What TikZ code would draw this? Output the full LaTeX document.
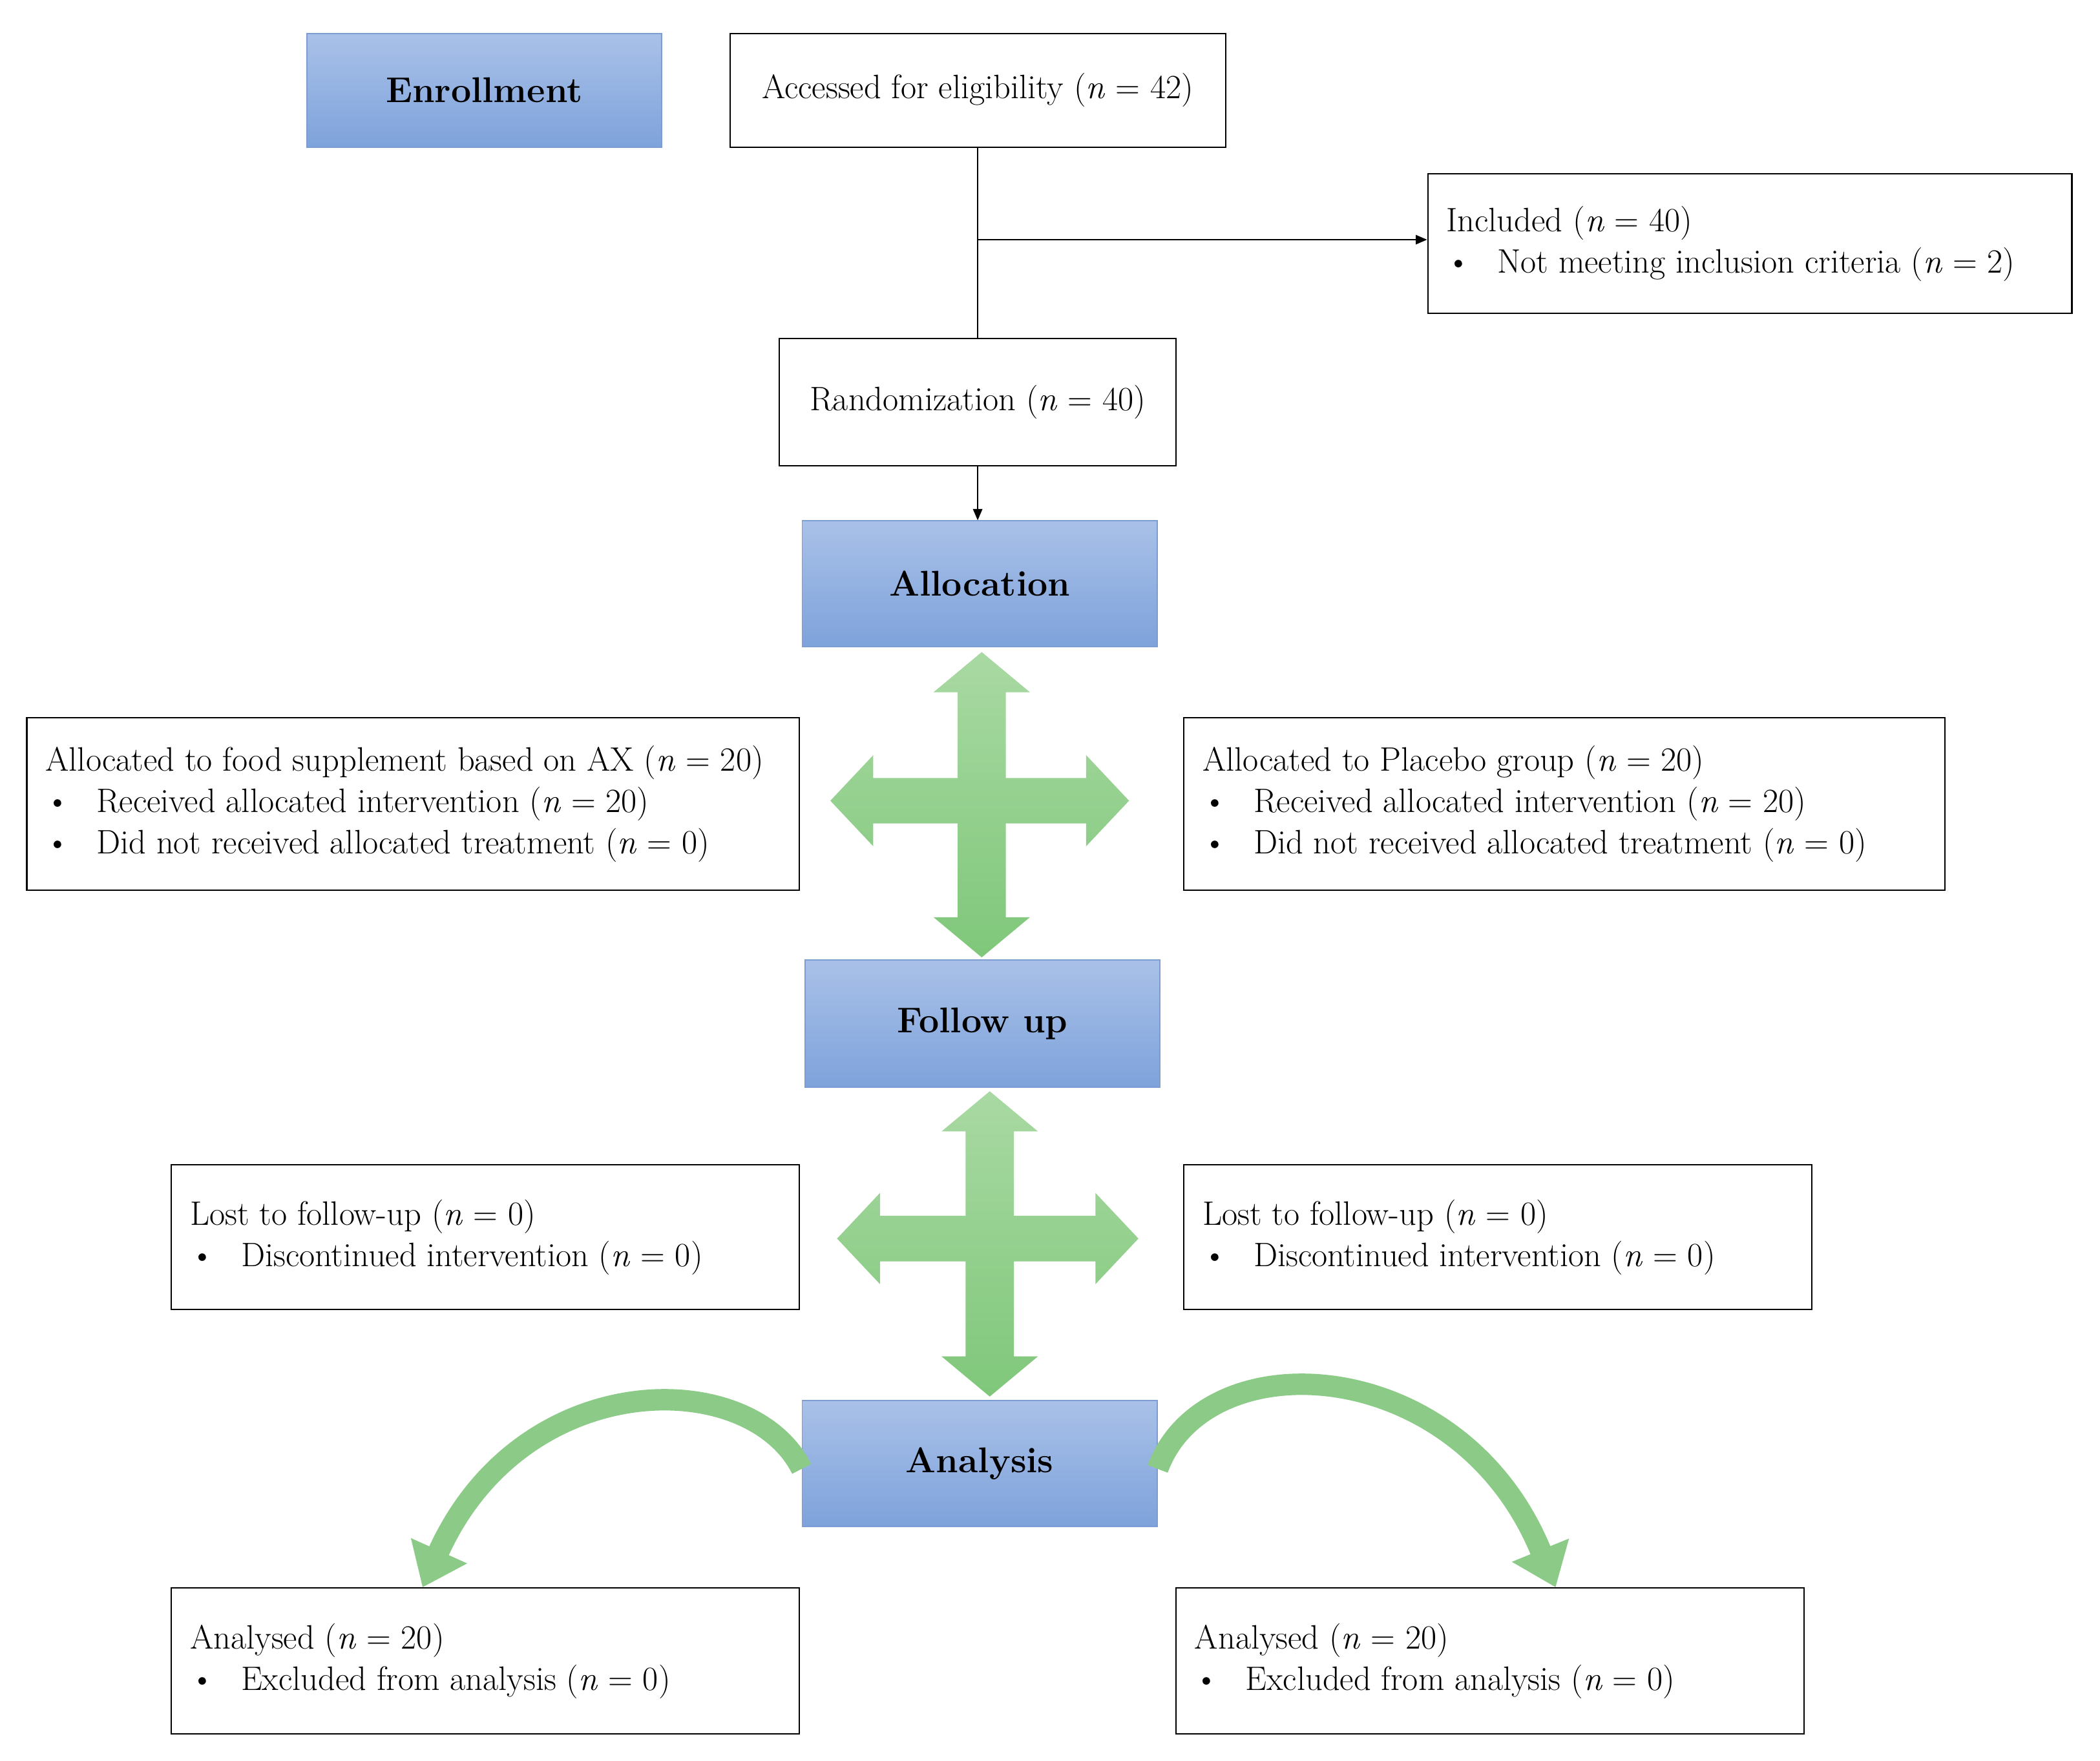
\documentclass[tikz,border=0pt]{standalone}
\usetikzlibrary{arrows.meta,calc}
\definecolor{bluetop}{HTML}{A9C1E8}
\definecolor{bluebot}{HTML}{7EA2DB}
\definecolor{blueedge}{HTML}{7D9CD2}
\definecolor{gtop}{HTML}{A9D9A3}
\definecolor{gbot}{HTML}{7FC77A}
\definecolor{gcurve}{HTML}{8CCB87}
\begin{document}
\begin{tikzpicture}[x=0.05cm,y=-0.05cm,
  txt/.style={font=\fontsize{36}{44}\selectfont},
  box/.style={draw=black,line width=1.4pt,inner sep=0pt},
  stage/.style={draw=blueedge,line width=1.2pt,top color=bluetop,bottom color=bluebot,inner sep=0pt,font=\fontsize{38}{44}\selectfont\bfseries},
  con/.style={line width=1.1pt},
  arr/.style={con,-{Triangle[width=10pt,length=12pt]}},
  cross/.style={top color=gtop,bottom color=gbot,draw=none},
  curv/.style={draw=gcurve,line width=0.8cm,-{Triangle[width=2.2cm,length=1.5cm]}}
]
\useasboundingbox (0,0) rectangle (1568,1315);
\fill[white] (0,0) rectangle (1568,1315);
\newcommand{\bl}{\makebox[1.9cm][l]{\textbullet}}
% stage boxes
\node[stage,minimum width=13.25cm,minimum height=4.25cm] (enr) at (361.5,67.5) {Enrollment};
\node[stage,minimum width=13.25cm,minimum height=4.7cm] (alc) at (731.5,436) {Allocation};
\node[stage,minimum width=13.25cm,minimum height=4.75cm] (fol) at (733.5,764.5) {Follow up};
\node[stage,minimum width=13.25cm,minimum height=4.7cm] (ana) at (731.5,1093) {Analysis};
% plain boxes
\node[box,txt,minimum width=18.5cm,minimum height=4.25cm] (acc) at (730,67.5) {Accessed for eligibility (\textit{n} = 42)};
\node[box,txt,minimum width=14.8cm,minimum height=4.75cm] (ran) at (730,300.5) {Randomization (\textit{n} = 40)};
\node[box,minimum width=24.05cm,minimum height=5.2cm] (inc) at (1306.5,182) {};
\node[txt,anchor=west,align=left] at ([xshift=0.6cm]inc.west) {Included (\textit{n} = 40)\\\bl Not meeting inclusion criteria (\textit{n} = 2)};
\node[box,minimum width=28.85cm,minimum height=6.45cm] (al1) at (308.5,600.5) {};
\node[txt,anchor=west,align=left] at ([xshift=0.6cm]al1.west) {Allocated to food supplement based on AX (\textit{n} = 20)\\\bl Received allocated intervention (\textit{n} = 20)\\\bl Did not received allocated treatment (\textit{n} = 0)};
\node[box,minimum width=28.4cm,minimum height=6.45cm] (al2) at (1168,600.5) {};
\node[txt,anchor=west,align=left] at ([xshift=0.6cm]al2.west) {Allocated to Placebo group (\textit{n} = 20)\\\bl Received allocated intervention (\textit{n} = 20)\\\bl Did not received allocated treatment (\textit{n} = 0)};
\node[box,minimum width=23.45cm,minimum height=5.4cm] (lo1) at (362.5,924) {};
\node[txt,anchor=west,align=left] at ([xshift=0.6cm]lo1.west) {Lost to follow-up (\textit{n} = 0)\\\bl Discontinued intervention (\textit{n} = 0)};
\node[box,minimum width=23.45cm,minimum height=5.4cm] (lo2) at (1118.5,924) {};
\node[txt,anchor=west,align=left] at ([xshift=0.6cm]lo2.west) {Lost to follow-up (\textit{n} = 0)\\\bl Discontinued intervention (\textit{n} = 0)};
\node[box,minimum width=23.45cm,minimum height=5.45cm] (an1) at (362.5,1240.5) {};
\node[txt,anchor=west,align=left] at ([xshift=0.6cm]an1.west) {Analysed (\textit{n} = 20)\\\bl Excluded from analysis (\textit{n} = 0)};
\node[box,minimum width=23.45cm,minimum height=5.45cm] (an2) at (1112.5,1240.5) {};
\node[txt,anchor=west,align=left] at ([xshift=0.6cm]an2.west) {Analysed (\textit{n} = 20)\\\bl Excluded from analysis (\textit{n} = 0)};
% connectors
\draw[con] (acc.south) -- (ran.north);
\coordinate (br) at (730,179);
\draw[arr] (br) -- (br -| inc.west);
\draw[arr] (ran.south) -- (ran.south |- alc.north);
% crosses
\foreach \cx/\cy/\t/\b/\l/\r in {733/598/487/715/620/843, 739/925/815/1043/625/850}{
\path[cross] (\cx,\t) -- ({\cx+36},{\t+30}) -- ({\cx+18},{\t+30}) -- ({\cx+18},{\cy-17}) -- ({\r-32},{\cy-17}) -- ({\r-32},{\cy-34}) -- (\r,\cy) -- ({\r-32},{\cy+34}) -- ({\r-32},{\cy+17}) -- ({\cx+18},{\cy+17}) -- ({\cx+18},{\b-30}) -- ({\cx+36},{\b-30}) -- (\cx,\b) -- ({\cx-36},{\b-30}) -- ({\cx-18},{\b-30}) -- ({\cx-18},{\cy+17}) -- ({\l+32},{\cy+17}) -- ({\l+32},{\cy+34}) -- (\l,\cy) -- ({\l+32},{\cy-34}) -- ({\l+32},{\cy-17}) -- ({\cx-18},{\cy-17}) -- ({\cx-18},{\t+30}) -- ({\cx-36},{\t+30}) -- cycle;
}
% curved arrows
\draw[curv] ([yshift=-0.2cm]ana.west) .. controls (560,1020) and (390,1020) .. ([xshift=-2.35cm]an1.north);
\draw[curv] ([yshift=-0.2cm]ana.east) .. controls (900,1000) and (1090,1010) .. ([xshift=2.45cm]an2.north);
\end{tikzpicture}
\end{document}
